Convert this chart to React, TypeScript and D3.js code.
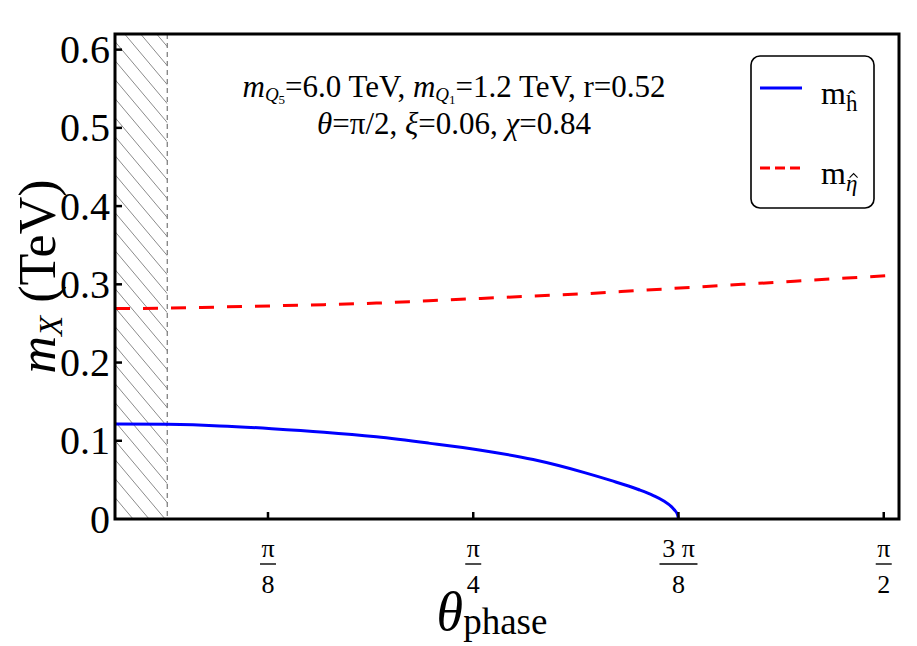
import React, { useRef, useEffect } from 'react';
import * as d3 from 'd3';

// blue solid curve, m_h (TeV) vs theta_phase (rad)
const thetaH = [0.1, 0.2, 0.3, 0.4, 0.5, 0.6, 0.7, 0.8, 0.9, 1.0, 1.05, 1.1, 1.13, 1.15, 1.165, 1.17, 1.176, 1.1781];
const massH = [0.1216, 0.121, 0.119, 0.1155, 0.111, 0.105, 0.097, 0.088, 0.076, 0.059, 0.049, 0.038, 0.030, 0.023, 0.0155, 0.0118, 0.006, 0];

// red dashed curve, m_eta (TeV)
const thetaEta = [0.1, 0.2, 0.3, 0.4, 0.5, 0.6, 0.7, 0.8, 0.9, 1.0, 1.1, 1.2, 1.3, 1.4, 1.5, 1.6];
const massEta = [0.269, 0.2695, 0.271, 0.2725, 0.274, 0.276, 0.279, 0.282, 0.285, 0.288, 0.292, 0.296, 0.3, 0.304, 0.308, 0.312];

const xTickValues = [Math.PI / 8, Math.PI / 4, (3 * Math.PI) / 8, Math.PI / 2];
const xTickNum = ['π', 'π', '3 π', 'π'];
const xTickDen = ['8', '4', '8', '2'];
const yTickValues = [0, 0.1, 0.2, 0.3, 0.4, 0.5, 0.6];
const yTickLabels = ['0', '0.1', '0.2', '0.3', '0.4', '0.5', '0.6'];
const excluded = [0.1, 0.2];

const W = 917;
const H = 646;
const m = { left: 115, right: 18, top: 34, bottom: 127 };
const FONT = '"Liberation Serif", "Times New Roman", serif';

const App = () => {
  const svgRef = useRef<SVGSVGElement>(null);

  useEffect(() => {
    const svg = d3.select(svgRef.current);
    svg.selectAll('*').remove();

    const x = d3.scaleLinear().domain([0.1, 1.6]).range([m.left, W - m.right]);
    const y = d3.scaleLinear().domain([0, 0.62]).range([H - m.bottom, m.top]);
    const y0 = y(0);

    // hatch pattern for excluded region
    const defs = svg.append('defs');
    const pat = defs
      .append('pattern')
      .attr('id', 'hatch')
      .attr('patternUnits', 'userSpaceOnUse')
      .attr('width', 16)
      .attr('height', 19);
    [[0, 0], [16, 0], [0, 19]].forEach(([dx, dy]) => {
      pat.append('line')
        .attr('x1', -16 + dx).attr('y1', -19 + dy).attr('x2', 16 + dx).attr('y2', 19 + dy)
        .attr('stroke', '#8a8a8a').attr('stroke-width', 1);
    });

    svg.append('rect')
      .attr('x', x(excluded[0]))
      .attr('y', m.top)
      .attr('width', x(excluded[1]) - x(excluded[0]))
      .attr('height', y0 - m.top)
      .attr('fill', 'url(#hatch)');

    svg.append('line')
      .attr('x1', x(excluded[1])).attr('x2', x(excluded[1]))
      .attr('y1', m.top).attr('y2', y0)
      .attr('stroke', '#777').attr('stroke-width', 1.2)
      .attr('stroke-dasharray', '5,4');

    const lineH = d3.line<number>()
      .x((d, i) => x(thetaH[i]))
      .y((d) => y(d))
      .curve(d3.curveMonotoneX);
    const lineEta = d3.line<number>()
      .x((d, i) => x(thetaEta[i]))
      .y((d) => y(d))
      .curve(d3.curveMonotoneX);

    svg.append('path')
      .attr('d', lineEta(massEta))
      .attr('fill', 'none')
      .attr('stroke', '#ff0000')
      .attr('stroke-width', 3)
      .attr('stroke-dasharray', '15,13');

    svg.append('path')
      .attr('d', lineH(massH))
      .attr('fill', 'none')
      .attr('stroke', '#0000ff')
      .attr('stroke-width', 3);

    // frame
    svg.append('rect')
      .attr('x', m.left).attr('y', m.top)
      .attr('width', W - m.left - m.right).attr('height', y0 - m.top)
      .attr('fill', 'none').attr('stroke', '#000').attr('stroke-width', 3);

    // y ticks
    const yt = svg.append('g');
    yt.selectAll('line').data(yTickValues.slice(1)).join('line')
      .attr('x1', m.left).attr('x2', m.left + 7)
      .attr('y1', (d) => y(d)).attr('y2', (d) => y(d))
      .attr('stroke', '#000').attr('stroke-width', 2.5);
    yt.selectAll('text').data(yTickValues).join('text')
      .attr('x', m.left - 5)
      .attr('y', (d) => y(d))
      .attr('dy', '0.34em')
      .attr('text-anchor', 'end')
      .attr('font-family', FONT)
      .attr('font-size', 40)
      .text((d, i) => yTickLabels[i]);

    // x ticks
    const xt = svg.append('g');
    xt.selectAll('line').data(xTickValues).join('line')
      .attr('x1', (d) => x(d)).attr('x2', (d) => x(d))
      .attr('y1', y0).attr('y2', y0 - 7)
      .attr('stroke', '#000').attr('stroke-width', 2.5);
    const lab = xt.selectAll('g.lab').data(xTickValues).join('g')
      .attr('class', 'lab')
      .attr('transform', (d) => `translate(${x(d)},0)`);
    lab.append('text')
      .attr('y', 557).attr('text-anchor', 'middle')
      .attr('font-family', FONT).attr('font-size', 26)
      .text((d, i) => xTickNum[i]);
    lab.append('line')
      .attr('x1', (d, i) => (i === 2 ? -19 : -8)).attr('x2', (d, i) => (i === 2 ? 19 : 8))
      .attr('y1', 564).attr('y2', 564)
      .attr('stroke', '#000').attr('stroke-width', 1.4);
    lab.append('text')
      .attr('y', 593).attr('text-anchor', 'middle')
      .attr('font-family', FONT).attr('font-size', 26)
      .text((d, i) => xTickDen[i]);

    // axis titles
    const xl = svg.append('text')
      .attr('x', 492).attr('y', 630)
      .attr('text-anchor', 'middle').attr('font-family', FONT).attr('font-size', 54);
    xl.append('tspan').attr('font-style', 'italic').text('θ');
    xl.append('tspan').attr('font-size', 37).attr('dy', 4).text('phase');

    const yl = svg.append('text')
      .attr('transform', `translate(55,${(m.top + y0) / 2}) rotate(-90)`)
      .attr('text-anchor', 'middle').attr('font-family', FONT).attr('font-size', 52);
    yl.append('tspan').attr('font-style', 'italic').text('m');
    yl.append('tspan').attr('font-style', 'italic').attr('font-size', 33).attr('dy', 7).text('X');
    yl.append('tspan').attr('dy', -7).text(' (TeV)');

    // annotation
    const a1 = svg.append('text')
      .attr('x', 454).attr('y', 97)
      .attr('text-anchor', 'middle').attr('font-family', FONT).attr('font-size', 31);
    a1.append('tspan').attr('font-style', 'italic').text('m');
    a1.append('tspan').attr('font-style', 'italic').attr('font-size', 19).attr('dy', 4).text('Q');
    a1.append('tspan').attr('font-size', 13).attr('dy', 3).text('5');
    a1.append('tspan').attr('dy', -7).text('=6.0 TeV, ');
    a1.append('tspan').attr('font-style', 'italic').text('m');
    a1.append('tspan').attr('font-style', 'italic').attr('font-size', 19).attr('dy', 4).text('Q');
    a1.append('tspan').attr('font-size', 13).attr('dy', 3).text('1');
    a1.append('tspan').attr('dy', -7).text('=1.2 TeV, r=0.52');

    const a2 = svg.append('text')
      .attr('x', 454).attr('y', 134)
      .attr('text-anchor', 'middle').attr('font-family', FONT).attr('font-size', 31);
    a2.append('tspan').attr('font-style', 'italic').text('θ');
    a2.append('tspan').text('=π/2, ');
    a2.append('tspan').attr('font-style', 'italic').text('ξ');
    a2.append('tspan').text('=0.06, ');
    a2.append('tspan').attr('font-style', 'italic').text('χ');
    a2.append('tspan').text('=0.84');

    // legend
    const lg = svg.append('g');
    lg.append('rect')
      .attr('x', 751).attr('y', 56).attr('width', 123).attr('height', 152)
      .attr('rx', 9).attr('fill', '#fff').attr('stroke', '#000').attr('stroke-width', 1.6);
    lg.append('line').attr('x1', 760).attr('x2', 802).attr('y1', 88).attr('y2', 88)
      .attr('stroke', '#0000ff').attr('stroke-width', 3);
    lg.append('line').attr('x1', 760).attr('x2', 802).attr('y1', 168).attr('y2', 168)
      .attr('stroke', '#ff0000').attr('stroke-width', 3).attr('stroke-dasharray', '10,5');
    const l1 = lg.append('text').attr('x', 821).attr('y', 104)
      .attr('font-family', FONT).attr('font-size', 32);
    l1.append('tspan').text('m');
    l1.append('tspan').attr('font-size', 23).attr('dy', 7).text('ĥ');

    // eta label, with a small hat stroke drawn over the eta
    const l2 = lg.append('text').attr('x', 821).attr('y', 184)
      .attr('font-family', FONT).attr('font-size', 32);
    l2.append('tspan').text('m');
    const et = l2.append('tspan').attr('font-size', 23).attr('font-style', 'italic').attr('dy', 7).text('η');
    const node = l2.node() as SVGTextElement;
    const mw = node.getSubStringLength(0, 1);
    const ew = (et.node() as SVGTSpanElement).getComputedTextLength();
    const hx = 821 + mw + ew / 2 + 2;
    const hy = 191 - 23 * 0.45 - 3;
    lg.append('path')
      .attr('d', `M${hx - 4},${hy} L${hx},${hy - 4} L${hx + 4},${hy}`)
      .attr('fill', 'none').attr('stroke', '#000').attr('stroke-width', 1.1);
  }, []);

  return (
    <svg
      ref={svgRef}
      width={W}
      height={H}
      style={{ position: 'absolute', left: 0, top: 0, background: '#fff' }}
    />
  );
};

export default App;
